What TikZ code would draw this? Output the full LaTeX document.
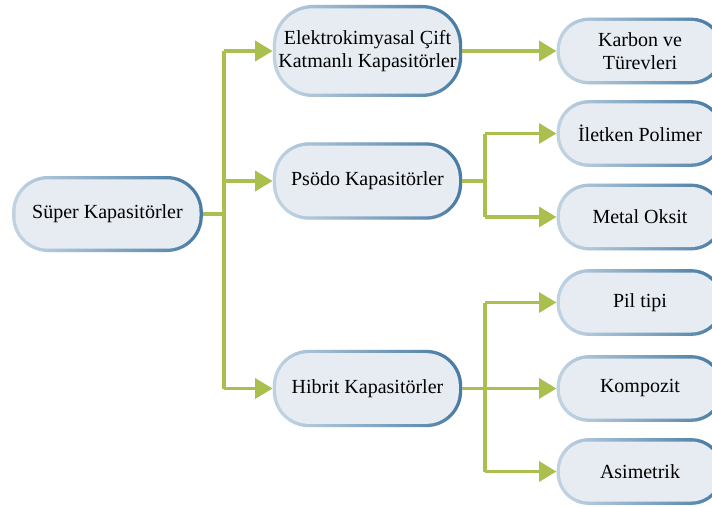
\documentclass[tikz,border=0pt]{standalone}
\usepackage{fontspec}
\setmainfont{Liberation Serif}
\usetikzlibrary{arrows.meta,calc}
\definecolor{boxfill}{HTML}{E7ECF3}
\definecolor{rimlight}{HTML}{BFD2E2}
\definecolor{rimdark}{HTML}{497DA5}
\definecolor{linkgreen}{HTML}{A9C04F}
\tikzset{
  pill/.style={rectangle, rounded corners=#1, fill=boxfill, align=center,
    font=\fontsize{15}{17.5}\selectfont, inner sep=0pt,
    path picture={
      \shade[left color=rimlight, right color=rimdark, shading angle=100]
        (path picture bounding box.south west) rectangle (path picture bounding box.north east);
      \fill[boxfill, rounded corners=#1-2.5pt]
        ($(path picture bounding box.south west)+(2.5pt,2.5pt)$) rectangle
        ($(path picture bounding box.north east)-(2.5pt,2.5pt)$);
    }},
  midbox/.style={pill=27pt, minimum width=142pt, minimum height=58pt},
  leafbox/.style={pill=24pt, minimum width=125pt, minimum height=50pt},
  link/.style={draw=linkgreen, line width=2.3pt},
  arrowlink/.style={link, -{Triangle[length=13pt, width=15pt]}, shorten >=0pt},
}
\begin{document}
\begin{tikzpicture}[x=0.75pt, y=-0.75pt]
\useasboundingbox (0,0) rectangle (712,506);

% top level
\node[midbox, minimum width=143pt, minimum height=57pt] (sup) at (107.5,214) {Süper Kapasitörler};

% second level
\node[midbox, minimum height=69pt, pill=30pt] (ecf) at (367.5,51) {Elektrokimyasal Çift\\Katmanlı Kapasitörler};
\node[midbox] (psd) at (367.5,181) {Psödo Kapasitörler};
\node[midbox] (hib) at (367.5,388.5) {Hibrit Kapasitörler};

% leaves
\node[leafbox] (kar) at (640,51) {Karbon ve\\Türevleri};
\node[leafbox] (ilt) at (640,133.5) {İletken Polimer};
\node[leafbox] (met) at (640,217) {Metal Oksit};
\node[leafbox] (pil) at (640,302.5) {Pil tipi};
\node[leafbox] (kom) at (640,388.5) {Kompozit};
\node[leafbox] (asi) at (640,471.5) {Asimetrik};

% branch points
\coordinate (t0) at (224,214);
\coordinate (t1) at (485,181);
\coordinate (t2) at (485,388.5);

% connectors from the top level
\draw[link] (sup.east) -- (t0);
\draw[link] (ecf.west -| t0) -- (hib.west -| t0);
\draw[arrowlink] (ecf.west -| t0) -- (ecf.west);
\draw[arrowlink] (psd.west -| t0) -- (psd.west);
\draw[arrowlink] (hib.west -| t0) -- (hib.west);

% double layer branch
\draw[arrowlink] (ecf.east) -- (kar.west);

% pseudo branch
\draw[link] (psd.east) -- (t1);
\draw[link] (ilt.west -| t1) -- (met.west -| t1);
\draw[arrowlink] (ilt.west -| t1) -- (ilt.west);
\draw[arrowlink] (met.west -| t1) -- (met.west);

% hybrid branch
\draw[link] (hib.east) -- (t2);
\draw[link] (pil.west -| t2) -- (asi.west -| t2);
\draw[arrowlink] (pil.west -| t2) -- (pil.west);
\draw[arrowlink] (kom.west -| t2) -- (kom.west);
\draw[arrowlink] (asi.west -| t2) -- (asi.west);
\end{tikzpicture}
\end{document}
